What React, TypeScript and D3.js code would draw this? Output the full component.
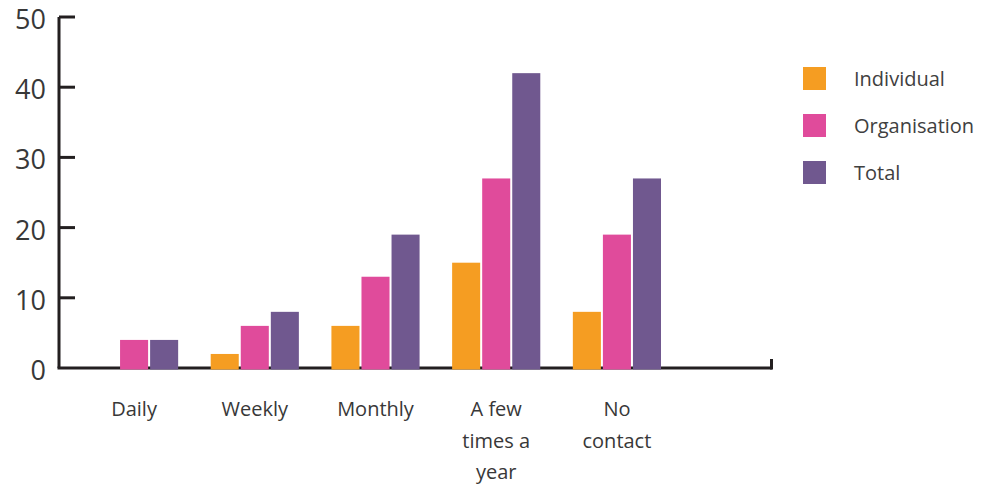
import { useRef, useEffect } from 'react';
import * as d3 from 'd3';

const categories = ['Daily', 'Weekly', 'Monthly', 'A few times a year', 'No contact'];
const categoryLines = [['Daily'], ['Weekly'], ['Monthly'], ['A few', 'times a', 'year'], ['No', 'contact']];
const seriesNames = ['Individual', 'Organisation', 'Total'];
const individual = [0, 2, 6, 15, 8];
const organisation = [4, 6, 13, 27, 19];
const total = [4, 8, 19, 42, 27];
const yTicks = [0, 10, 20, 30, 40, 50];
const colors = ['#F59D22', '#E04B9B', '#70588F'];

const width = 984;
const height = 488;

export default function App() {
  const svgRef = useRef<SVGSVGElement>(null);

  useEffect(() => {
    if (!svgRef.current) return;
    const svg = d3.select(svgRef.current);
    svg.selectAll('*').remove();

    const font = "'Open Sans', sans-serif";
    const axisX = 59;
    const axisEnd = 772;
    const baseY = 368;

    const y = d3.scaleLinear().domain([0, 50]).range([baseY, 17]);
    const x = d3.scaleBand<string>().domain(categories).range([90, 661]).paddingInner(0.2697).paddingOuter(0);
    const xInner = d3.scaleBand<string>().domain(seriesNames).range([0, x.bandwidth()]).paddingInner(0.067);

    const series = [individual, organisation, total];

    // Y axis
    svg.append('line')
      .attr('x1', axisX).attr('x2', axisX)
      .attr('y1', y(50)).attr('y2', baseY)
      .attr('stroke', '#231F20').attr('stroke-width', 3);

    svg.selectAll('.ytick')
      .data(yTicks.filter((t) => t > 0))
      .join('line')
      .attr('x1', axisX).attr('x2', 75)
      .attr('y1', (d) => y(d)).attr('y2', (d) => y(d))
      .attr('stroke', '#231F20').attr('stroke-width', 3);

    svg.selectAll('.ylabel')
      .data(yTicks)
      .join('text')
      .attr('x', 46)
      .attr('y', (d) => y(d) + 12)
      .attr('text-anchor', 'end')
      .attr('font-family', font)
      .attr('font-size', 27)
      .attr('fill', '#383838')
      .text((d) => d);

    // X axis
    svg.append('line')
      .attr('x1', axisX - 1.5).attr('x2', axisEnd)
      .attr('y1', baseY).attr('y2', baseY)
      .attr('stroke', '#231F20').attr('stroke-width', 3);
    svg.append('line')
      .attr('x1', axisEnd - 0.5).attr('x2', axisEnd - 0.5)
      .attr('y1', baseY - 9).attr('y2', baseY + 1.5)
      .attr('stroke', '#231F20').attr('stroke-width', 3);

    // Bars
    series.forEach((vals, si) => {
      svg.append('g')
        .selectAll('rect')
        .data(vals.map((v, i) => ({ cat: categories[i], v })).filter((d) => d.v > 0))
        .join('rect')
        .attr('x', (d) => (x(d.cat) ?? 0) + (xInner(seriesNames[si]) ?? 0))
        .attr('y', (d) => y(d.v))
        .attr('width', xInner.bandwidth())
        .attr('height', (d) => baseY + 1.5 - y(d.v))
        .attr('fill', colors[si]);
    });

    // Category labels
    categories.forEach((c, i) => {
      const cx = (x(c) ?? 0) + x.bandwidth() / 2;
      const t = svg.append('text')
        .attr('x', cx)
        .attr('y', 416)
        .attr('text-anchor', 'middle')
        .attr('font-family', font)
        .attr('font-size', 20)
        .attr('fill', '#383838');
      categoryLines[i].forEach((line, li) => {
        t.append('tspan')
          .attr('x', cx)
          .attr('dy', li === 0 ? 0 : 31.5)
          .text(line);
      });
    });

    // Legend
    const legend = svg.append('g').attr('transform', 'translate(803,67)');
    seriesNames.forEach((name, i) => {
      legend.append('rect')
        .attr('x', 0).attr('y', i * 47)
        .attr('width', 23).attr('height', 23)
        .attr('fill', colors[i]);
      legend.append('text')
        .attr('x', 51).attr('y', i * 47 + 19)
        .attr('font-family', font)
        .attr('font-size', 20)
        .attr('fill', '#404040')
        .text(name);
    });
  }, []);

  return (
    <div style={{ position: 'absolute', left: 0, top: 0 }}>
      <svg ref={svgRef} width={width} height={height} style={{ display: 'block', background: '#fff' }} />
    </div>
  );
}
